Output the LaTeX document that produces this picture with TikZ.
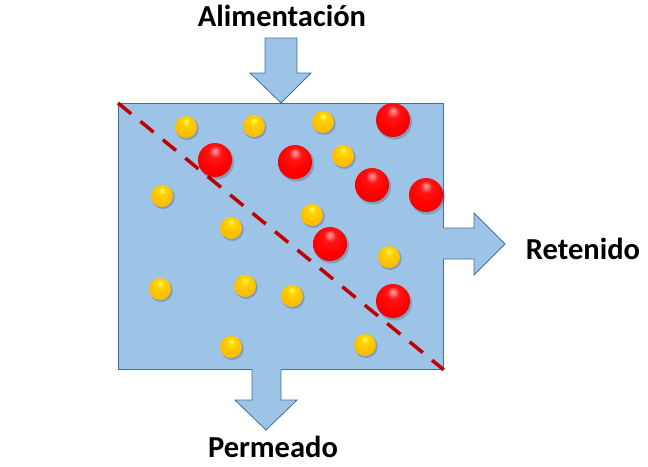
\documentclass[tikz,border=0pt]{standalone}
\usepackage{fontspec}
\setmainfont{Carlito}
\definecolor{boxfill}{HTML}{9DC3E6}
\definecolor{boxline}{HTML}{41719C}
\definecolor{cutred}{HTML}{C00000}
\definecolor{redbase}{HTML}{FF0000}
\definecolor{yelbase}{HTML}{FFC000}
\pgfdeclareradialshading{redballshade}{\pgfpoint{0bp}{14bp}}{%
  color(0bp)=(redbase!35!white); color(9bp)=(redbase!92!white); color(22bp)=(redbase); color(45bp)=(redbase!88!black); color(60bp)=(redbase!78!black)}
\pgfdeclareradialshading{yelballshade}{\pgfpoint{0bp}{14bp}}{%
  color(0bp)=(yellow!60!white); color(9bp)=(yelbase!70!yellow); color(22bp)=(yelbase); color(45bp)=(yelbase!85!orange); color(60bp)=(yelbase!70!orange!85!black)}
\tikzset{
  flowarrow/.style={fill=boxfill, draw=boxline, line width=0.8pt, line join=miter},
  lbl/.style={font=\fontsize{30.5}{36}\selectfont\bfseries, inner sep=0pt},
  shadowdot/.style={circle, fill=black, opacity=0.18, inner sep=0pt, draw=none},
  yball/.style={circle, inner sep=0pt, minimum size=22pt, shading=yelballshade, draw=none},
  rball/.style={circle, inner sep=0pt, minimum size=34pt, shading=redballshade, draw=none},
}
\begin{document}
\begin{tikzpicture}[x=1pt,y=-1pt]
\useasboundingbox (0,0) rectangle (648,466);
% box
\node[draw=boxline, fill=boxfill, line width=0.8pt, minimum width=325pt, minimum height=266pt, inner sep=0pt, anchor=north west] (box) at (118,103) {};
% top arrow
\draw[flowarrow] (265,38) -- (297,38) -- (297,73) -- (311,73) -- (281,103) -- (250,73) -- (265,73) -- cycle;
% right arrow
\draw[flowarrow] (443,228) -- (474,228) -- (474,213) -- (505,244) -- (474,275) -- (474,259) -- (443,259);
% bottom arrow
\draw[flowarrow] (252,369) -- (252,400) -- (235,400) -- (266,430) -- (297,400) -- (281,400) -- (281,369);
% labels
\node[lbl] (feed) at (282,16) {Alimentación};
\node[lbl] (ret) at (583,249) {Retenido};
\node[lbl] (perm) at (273,447) {Permeado};
% dashed cut line
\coordinate (cutA) at (box.north west);
\coordinate (cutB) at (box.south east);
\draw[cutred, line width=3.5pt, dash pattern=on 17pt off 12pt] (cutA) -- (cutB);
% balls
\foreach \n/\x/\y in {y1/186/127, y2/254/126, y3/323/122, y4/343/156, y5/162/196, y6/312/215, y7/231/228, y8/389/257, y9/160/289, y10/245/286, y11/292/296, y12/231/347, y13/365/345}{
  \node[shadowdot, minimum size=23pt] at (\x+1.2,\y+1.5) {};
  \node[yball] (\n) at (\x,\y) {};
}
\foreach \n/\x/\y in {r1/393/120, r2/215/160, r3/295/162, r4/372/185, r5/426/195, r6/330/244, r7/393/301}{
  \node[shadowdot, minimum size=35pt] at (\x+1.5,\y+2) {};
  \node[rball] (\n) at (\x,\y) {};
}
\end{tikzpicture}
\end{document}
